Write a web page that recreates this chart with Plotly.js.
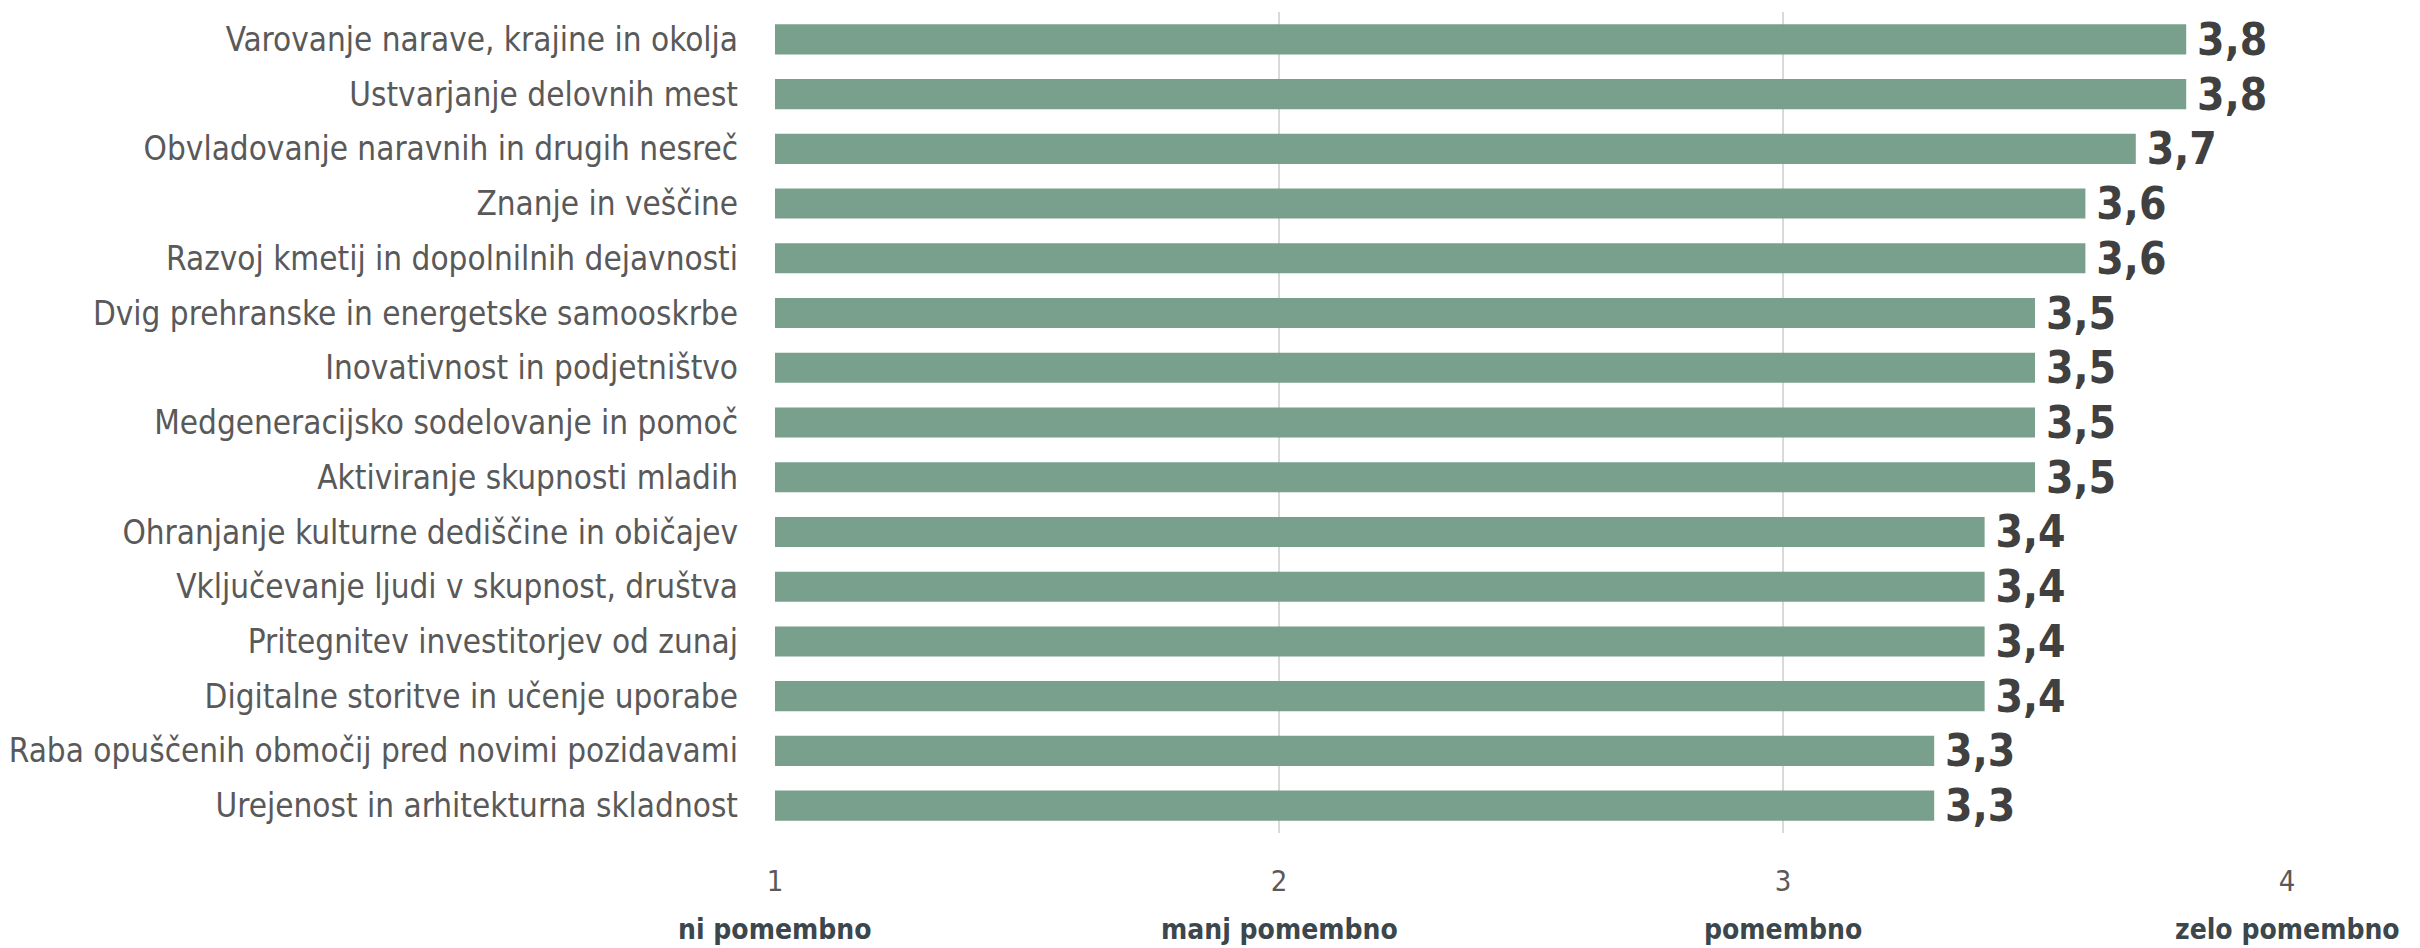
<!DOCTYPE html>
<html>
<head>
<meta charset="utf-8">
<script src="https://cdn.plot.ly/plotly-3.0.1.min.js"></script>
<style>html,body{margin:0;padding:0;background:#fff;}#chart{width:2420px;height:948px;}</style>
</head>
<body>
<div id="chart"></div>
<script>
const categories = [
  "Varovanje narave, krajine in okolja",
  "Ustvarjanje delovnih mest",
  "Obvladovanje naravnih in drugih nesreč",
  "Znanje in veščine",
  "Razvoj kmetij in dopolnilnih dejavnosti",
  "Dvig prehranske in energetske samooskrbe",
  "Inovativnost in podjetništvo",
  "Medgeneracijsko sodelovanje in pomoč",
  "Aktiviranje skupnosti mladih",
  "Ohranjanje kulturne dediščine in običajev",
  "Vključevanje ljudi v skupnost, društva",
  "Pritegnitev investitorjev od zunaj",
  "Digitalne storitve in učenje uporabe",
  "Raba opuščenih območij pred novimi pozidavami",
  "Urejenost in arhitekturna skladnost"
];
const values = [3.8, 3.8, 3.7, 3.6, 3.6, 3.5, 3.5, 3.5, 3.5, 3.4, 3.4, 3.4, 3.4, 3.3, 3.3];
const tickValues = [1, 2, 3, 4];
const tickTexts = ["1", "2", "3", "4"];
const scaleLabels = ["ni pomembno", "manj pomembno", "pomembno", "zelo pomembno"];

const labels = values.map(v => '\u2009' + v.toFixed(1).replace('.', ','));
const FONT = '"DejaVu Sans Condensed", "DejaVu Sans", sans-serif';

const trace = {
  type: 'bar',
  orientation: 'h',
  x: values,
  y: categories,
  text: labels,
  textposition: 'outside',
  constraintext: 'none',
  cliponaxis: false,
  textfont: {family: FONT, size: 44, color: '#404040', weight: 'bold', stretch: 'condensed'},
  marker: {color: '#78a08c'},
  hoverinfo: 'none'
};

const annotations = scaleLabels.map((t, i) => ({
  x: tickValues[i], xref: 'x',
  y: -0.118, yref: 'paper',
  text: '<b>' + t + '</b>',
  showarrow: false,
  xanchor: 'center', yanchor: 'middle',
  font: {family: FONT, size: 28, color: '#3b474c', stretch: 'condensed'}
}));

const layout = {
  width: 2420, height: 948,
  margin: {l: 775, r: 133, t: 12, b: 115},
  paper_bgcolor: '#ffffff',
  plot_bgcolor: '#ffffff',
  bargap: 0.45,
  showlegend: false,
  xaxis: {
    range: [1, 4],
    tickvals: tickValues,
    ticktext: tickTexts,
    showgrid: true,
    gridcolor: '#d9d9d9',
    gridwidth: 2,
    zeroline: false,
    showline: false,
    ticks: '',
    ticklabelstandoff: 28,
    tickfont: {family: FONT, size: 29, color: '#595959', stretch: 'condensed'}
  },
  yaxis: {
    autorange: 'reversed',
    showgrid: false,
    zeroline: false,
    showline: false,
    ticks: '',
    ticklabelstandoff: 36,
    tickfont: {family: FONT, size: 33, color: '#595959', stretch: 'condensed'}
  },
  annotations: annotations,
  font: {family: FONT}
};

Plotly.newPlot('chart', [trace], layout, {staticPlot: true, displayModeBar: false});
</script>
</body>
</html>
